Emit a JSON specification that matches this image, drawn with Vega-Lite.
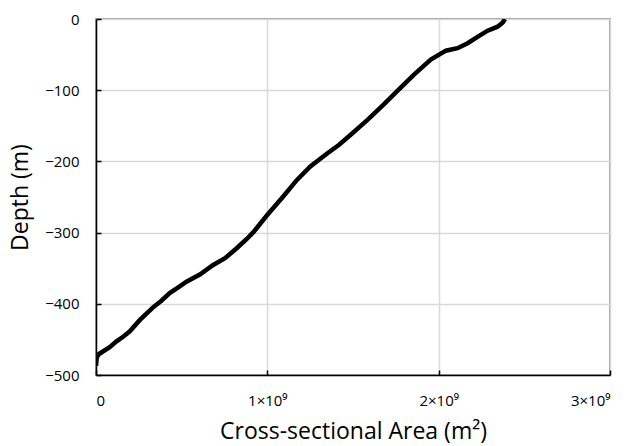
{
  "$schema": "https://vega.github.io/schema/vega-lite/v6.json",
  "width": 514,
  "height": 356,
  "padding": {"left": 96, "top": 19, "right": 24, "bottom": 71},
  "autosize": {"type": "none"},
  "background": "white",
  "data": {
    "values": [
      {"area": 0.0, "depth": -487},
      {"area": 0.004e9, "depth": -476},
      {"area": 0.015e9, "depth": -471},
      {"area": 0.04e9, "depth": -467},
      {"area": 0.08e9, "depth": -461},
      {"area": 0.118e9, "depth": -453},
      {"area": 0.16e9, "depth": -446},
      {"area": 0.196e9, "depth": -439},
      {"area": 0.255e9, "depth": -423},
      {"area": 0.29e9, "depth": -415},
      {"area": 0.333e9, "depth": -405},
      {"area": 0.38e9, "depth": -396},
      {"area": 0.43e9, "depth": -385},
      {"area": 0.48e9, "depth": -377},
      {"area": 0.528e9, "depth": -369},
      {"area": 0.606e9, "depth": -359},
      {"area": 0.684e9, "depth": -345.5},
      {"area": 0.753e9, "depth": -336},
      {"area": 0.821e9, "depth": -322},
      {"area": 0.88e9, "depth": -309},
      {"area": 0.92e9, "depth": -299},
      {"area": 0.997e9, "depth": -276},
      {"area": 1.094e9, "depth": -249},
      {"area": 1.173e9, "depth": -226},
      {"area": 1.251e9, "depth": -207},
      {"area": 1.349e9, "depth": -189},
      {"area": 1.417e9, "depth": -177},
      {"area": 1.485e9, "depth": -163},
      {"area": 1.583e9, "depth": -142},
      {"area": 1.68e9, "depth": -120},
      {"area": 1.759e9, "depth": -101},
      {"area": 1.856e9, "depth": -78},
      {"area": 1.954e9, "depth": -57},
      {"area": 2.042e9, "depth": -44.5},
      {"area": 2.11e9, "depth": -41},
      {"area": 2.169e9, "depth": -34},
      {"area": 2.227e9, "depth": -25},
      {"area": 2.286e9, "depth": -16.4},
      {"area": 2.344e9, "depth": -10.8},
      {"area": 2.374e9, "depth": -5},
      {"area": 2.387e9, "depth": 0}
    ]
  },
  "mark": {"type": "line", "color": "black", "strokeWidth": 4.5, "clip": true},
  "encoding": {
    "x": {
      "field": "area",
      "type": "quantitative",
      "title": "Cross-sectional Area (m²)",
      "scale": {"domain": [0, 3e9], "nice": false},
      "axis": {
        "values": [0, 1e9, 2e9, 3e9],
        "labelExpr": "datum.value == 0 ? '0' : format(datum.value / 1e9, 'd') + '×10⁹'",
        "labelPadding": 23,
        "titlePadding": 12
      }
    },
    "y": {
      "field": "depth",
      "type": "quantitative",
      "title": "Depth (m)",
      "scale": {"domain": [-500, 0], "nice": false, "zero": false},
      "axis": {
        "values": [-500, -400, -300, -200, -100, 0],
        "labelPadding": 22,
        "titlePadding": 12
      }
    },
    "order": {"field": "depth", "type": "quantitative"}
  },
  "config": {
    "view": {"stroke": "#7f7f7f", "strokeWidth": 1.5},
    "axis": {
      "labelFont": "Open Sans",
      "labelFontSize": 15,
      "labelColor": "#000",
      "titleFont": "Open Sans",
      "titleFontSize": 23,
      "titleFontWeight": "normal",
      "titleColor": "#000",
      "domainColor": "#000",
      "domainWidth": 1.5,
      "gridColor": "#d9d9d9",
      "gridWidth": 1.5,
      "tickColor": "#000",
      "tickSize": -5,
      "tickWidth": 1.5
    }
  }
}
